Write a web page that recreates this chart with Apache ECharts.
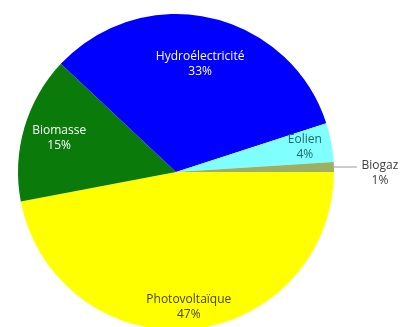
<!DOCTYPE html>
<html>
<head>
<meta charset="utf-8">
<script src="https://cdn.jsdelivr.net/npm/echarts@6/dist/echarts.min.js"></script>
<style>
html,body{margin:0;padding:0;background:#fff;}
#c{width:402px;height:327px;}
</style>
</head>
<body>
<div id="c"></div>
<script>
const categories = ['Photovoltaïque', 'Biomasse', 'Hydroélectricité', 'Eolien', 'Biogaz'];
const values = [47, 15, 33, 4, 1];
const sliceColors = ['#FFFF00', '#0A7A0A', '#0000FF', '#80FFFF', '#9DAF63'];
const labelColors = ['#4A4400', '#FFFFFF', '#FFFFFF', '#1E6A6A', '#404040'];
const labelRadiusFactor = [0.86, 0.77, 0.70, 0.83, 1];

const CX = 176, CY = 172, R = 158;
const total = values.reduce((a, b) => a + b, 0);

const chart = echarts.init(document.getElementById('c'), null, {renderer: 'canvas'});
const data = categories.map((name, i) => {
  const item = {
    name: name,
    value: values[i],
    itemStyle: {color: sliceColors[i]},
    label: {color: labelColors[i]}
  };
  if (i === 4) {
    item.label = {
      color: labelColors[i],
      position: 'outside',
      distanceToLabelLine: 4,
      formatter: p => '{s| }\n{t|' + p.name + '}\n{t|' + p.value + '%}',
      rich: {
        s: {height: 12, lineHeight: 12, fontSize: 12},
        t: {width: 38, align: 'center', lineHeight: 15, fontSize: 12, fontFamily: 'Open Sans', color: labelColors[i]}
      }
    };
    item.labelLine = {show: true, length: 1, length2: 22, lineStyle: {color: '#999999', width: 1}};
  }
  return item;
});

chart.setOption({
  animation: false,
  backgroundColor: '#ffffff',
  series: [{
    type: 'pie',
    center: [CX, CY],
    radius: R,
    startAngle: 0,
    clockwise: true,
    avoidLabelOverlap: false,
    itemStyle: {borderWidth: 0},
    label: {
      show: true,
      position: 'inside',
      formatter: p => p.name + '\n' + p.value + '%',
      fontFamily: 'Open Sans',
      fontSize: 12,
      lineHeight: 15,
      align: 'center'
    },
    labelLine: {show: false},
    labelLayout: function (p) {
      const i = p.dataIndex;
      if (i === 4) return {};
      let cum = 0;
      for (let k = 0; k < i; k++) cum += values[k];
      const theta = (cum + values[i] / 2) / total * 2 * Math.PI;
      const d = labelRadiusFactor[i] * R;
      return {
        x: CX + d * Math.cos(theta),
        y: CY + d * Math.sin(theta),
        align: 'center',
        verticalAlign: 'middle'
      };
    },
    data: data
  }]
});
</script>
</body>
</html>
